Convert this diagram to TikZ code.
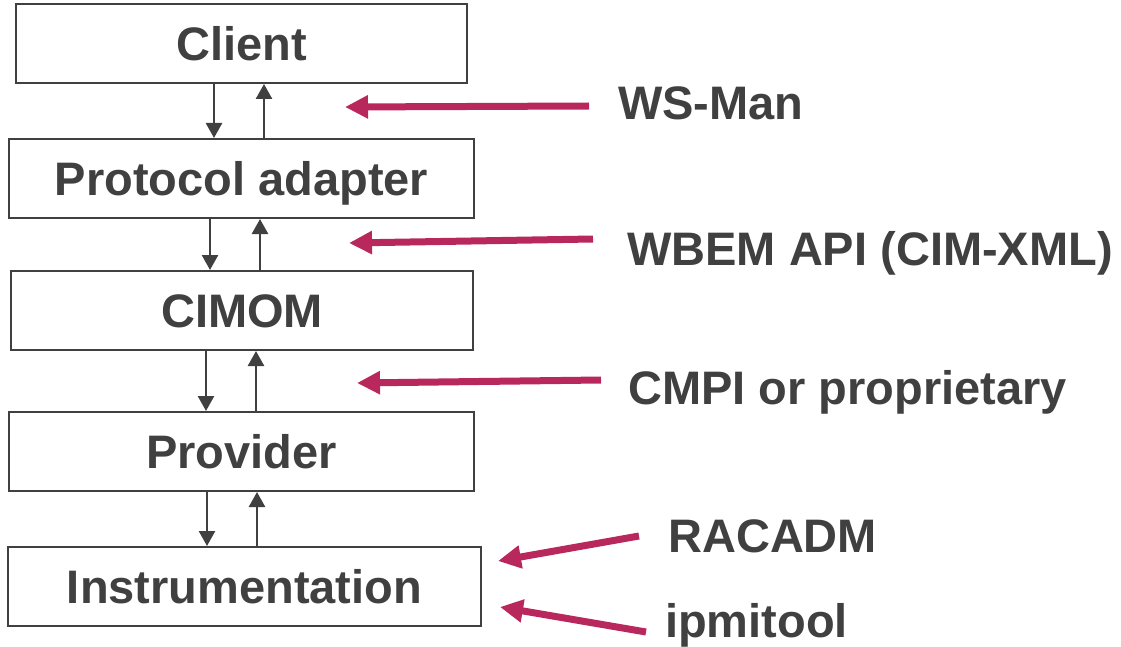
\documentclass[tikz,border=0pt]{standalone}
\usepackage{fontspec}
\setmainfont{Liberation Sans}
\usetikzlibrary{arrows.meta}
\definecolor{boxgray}{HTML}{404040}
\definecolor{hintred}{HTML}{B8285C}
\tikzset{
	layer/.style={draw=boxgray, line width=2pt, text=boxgray, inner sep=0pt,
		minimum height=79pt, text height=34pt, text depth=0pt,
		font=\bfseries\fontsize{47}{56}\selectfont},
	proto/.style={anchor=base west, inner sep=0pt, text=boxgray,
		font=\bfseries\fontsize{47}{56}\selectfont},
	flow/.style={draw=boxgray, line width=2.5pt, -{Triangle[width=16pt,length=15pt]}},
	hint/.style={draw=hintred, line width=7pt, -{Triangle[width=22pt,length=23pt]}},
}
\begin{document}
\begin{tikzpicture}[x=1pt,y=-1pt]
		\useasboundingbox (0,0) rectangle (1121,647);
		%%%%%%%%%%%%%
		\node[layer, minimum width=451pt] (client) at (241.5, 43.5) {Client};
		\node[layer, minimum width=465pt] (adapter) at (241.5, 178.5) {Protocol adapter};
		\node[layer, minimum width=462pt] (cimom) at (242, 310.5) {CIMOM};
		\node[layer, minimum width=465pt] (provider) at (241.5, 451.5) {Provider};
		\node[layer, minimum width=473pt] (instr) at (244.5, 586.5) {Instrumentation};
		%%%%%%%%%%%%%
		\node[proto] (wsman) at (618, 120) {WS-Man};
		\node[proto] (wbem) at (627, 265) {WBEM API (CIM-XML)};
		\node[proto] (cmpi) at (628, 404) {CMPI or proprietary};
		\node[proto] (racadm) at (668, 552) {RACADM};
		\node[proto] (ipmi) at (665, 637) {ipmitool};
		\coordinate (wsmantip) at (345, 107);
		\coordinate (wbemtip) at (349, 243);
		\coordinate (cmpitip) at (357, 383);
		\coordinate (racadmtip) at (498, 561);
		\coordinate (ipmitip) at (500, 607);
		%%%%%%%%%%%%%
		\draw[flow] ([xshift=-27.5pt]client.south) -- ([xshift=-27.5pt]client.south |- adapter.north);
		\draw[flow] ([xshift=22.5pt]client.south |- adapter.north) -- ([xshift=22.5pt]client.south);
		\draw[flow] ([xshift=-31.5pt]adapter.south) -- ([xshift=-31.5pt]adapter.south |- cimom.north);
		\draw[flow] ([xshift=18.5pt]adapter.south |- cimom.north) -- ([xshift=18.5pt]adapter.south);
		\draw[flow] ([xshift=-36pt]cimom.south) -- ([xshift=-36pt]cimom.south |- provider.north);
		\draw[flow] ([xshift=14pt]cimom.south |- provider.north) -- ([xshift=14pt]cimom.south);
		\draw[flow] ([xshift=-34.5pt]provider.south) -- ([xshift=-34.5pt]provider.south |- instr.north);
		\draw[flow] ([xshift=15.5pt]provider.south |- instr.north) -- ([xshift=15.5pt]provider.south);
		%%%%%%%%%%%%%
		\draw[hint] ([shift={(-29,-14)}]wsman.base west) -- (wsmantip);
		\draw[hint] ([shift={(-34,-26)}]wbem.base west) -- (wbemtip);
		\draw[hint] ([shift={(-27,-24)}]cmpi.base west) -- (cmpitip);
		\draw[hint] ([shift={(-29,-16)}]racadm.base west) -- (racadmtip);
		\draw[hint] ([shift={(-19,-5)}]ipmi.base west) -- (ipmitip);
	\end{tikzpicture}
\end{document}
